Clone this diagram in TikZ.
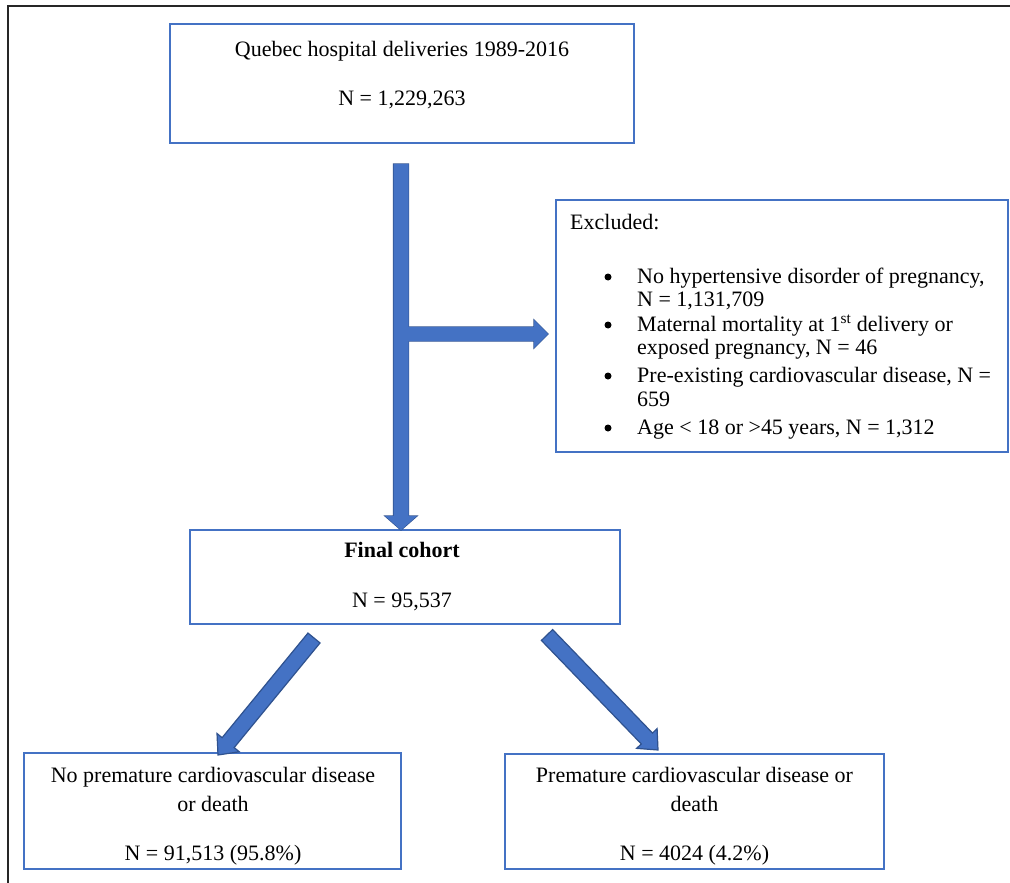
\documentclass[tikz,border=0pt]{standalone}
\usepackage{fontspec}
\setmainfont{Liberation Serif}
\usetikzlibrary{calc}
\definecolor{boxblue}{HTML}{4472C4}
\definecolor{arrowfill}{HTML}{4472C4}
\definecolor{arrowedge}{HTML}{2F528F}
\newcommand\blockarrow[6]{%
  \coordinate (bh#1) at ($(#2)!#5!(#1)$);
  \path[#6] ($(#1)!#3!90:(#2)$) -- ($(bh#1)!#3!90:(#2)$) -- ($(bh#1)!#4!90:(#2)$) -- (#2) --
  ($(bh#1)!#4!-90:(#2)$) -- ($(bh#1)!#3!-90:(#2)$) -- ($(#1)!#3!-90:(#2)$) -- cycle;}
\begin{document}
\begin{tikzpicture}[x=1pt,y=-1pt,
  box/.style={draw=boxblue, line width=2pt, rectangle, inner sep=0pt},
  txt/.style={anchor=base, inner sep=0pt, font=\fontsize{22}{23}\selectfont},
  ltxt/.style={anchor=base west, inner sep=0pt, font=\fontsize{22}{23}\selectfont},
  dot/.style={circle, fill=black, inner sep=0pt, minimum size=7pt},
  arrowline/.style={draw=arrowedge, line width=1.2pt, line join=miter},
  arrowbody/.style={fill=arrowfill}]
\useasboundingbox (0,0) rectangle (1010,883);
% outer frame
\draw[line width=2pt, black!85] (8,883) -- (8,6) -- (1010,6);

% boxes
\node[box, minimum width=464pt, minimum height=119pt] (top) at (402,83.5) {};
\node[box, minimum width=452pt, minimum height=252pt] (excl) at (781.5,326) {};
\node[box, minimum width=430pt, minimum height=94pt] (final) at (405,577) {};
\node[box, minimum width=377pt, minimum height=116pt] (nocvd) at (212.5,811) {};
\node[box, minimum width=379pt, minimum height=115pt] (cvd) at (694.5,811.5) {};

% texts
\node[txt] (t1) at (402,57) {Quebec hospital deliveries 1989-2016};
\node[txt] (t2) at (402,106) {N = 1,229,263};

\node[ltxt] (e0) at (570,229) {Excluded:};
\node[dot] (b1) at (608,277) {};
\node[ltxt] (e1a) at (637,283) {No hypertensive disorder of pregnancy,};
\node[ltxt] (e1b) at (637,306) {N = 1,131,709};
\node[dot] (b2) at (608,325) {};
\node[ltxt] (e2a) at (637,331) {Maternal mortality at 1\textsuperscript{st} delivery or};
\node[ltxt] (e2b) at (637,354) {exposed pregnancy, N = 46};
\node[dot] (b3) at (608,376) {};
\node[ltxt] (e3a) at (637,382) {Pre-existing cardiovascular disease, N =};
\node[ltxt] (e3b) at (637,406) {659};
\node[dot] (b4) at (608,428) {};
\node[ltxt] (e4a) at (637,434) {Age {\textless} 18 or {\textgreater}45 years, N = 1,312};

\node[txt] (f1) at (402,557) {\bfseries Final cohort};
\node[txt] (f2) at (402,607) {N = 95,537};

\node[txt] (l1) at (213,782) {No premature cardiovascular disease};
\node[txt] (l2) at (213,811) {or death};
\node[txt] (l3) at (213,860) {N = 91,513 (95.8\%)};

\node[txt] (r1) at (694.5,782) {Premature cardiovascular disease or};
\node[txt] (r2) at (694.5,811) {death};
\node[txt] (r3) at (694.5,860) {N = 4024 (4.2\%)};

% arrow end points
\coordinate (vA) at ($(top.south)+(-1,20)$);
\coordinate (vB) at ($(final.north)+(-4,1)$);
\coordinate (hA) at (401,334);
\coordinate (hB) at ($(excl.west)+(-6.5,8)$);
\coordinate (lA) at (314,638);
\coordinate (lB) at (218,755);
\coordinate (rA) at (547,635);
\coordinate (rB) at (658,750);

% block arrows: outlines first, then fills
\blockarrow{hA}{hB}{7pt}{14pt}{14pt}{arrowline}
\blockarrow{vA}{vB}{7.5pt}{16pt}{14pt}{arrowline}
\blockarrow{hA}{hB}{7pt}{14pt}{14pt}{arrowbody}
\blockarrow{vA}{vB}{7.5pt}{16pt}{14pt}{arrowbody}
\blockarrow{lA}{lB}{7.8pt}{14.4pt}{16pt}{arrowline, arrowbody}
\blockarrow{rA}{rB}{7.8pt}{14.2pt}{16pt}{arrowline, arrowbody}
\end{tikzpicture}
\end{document}
